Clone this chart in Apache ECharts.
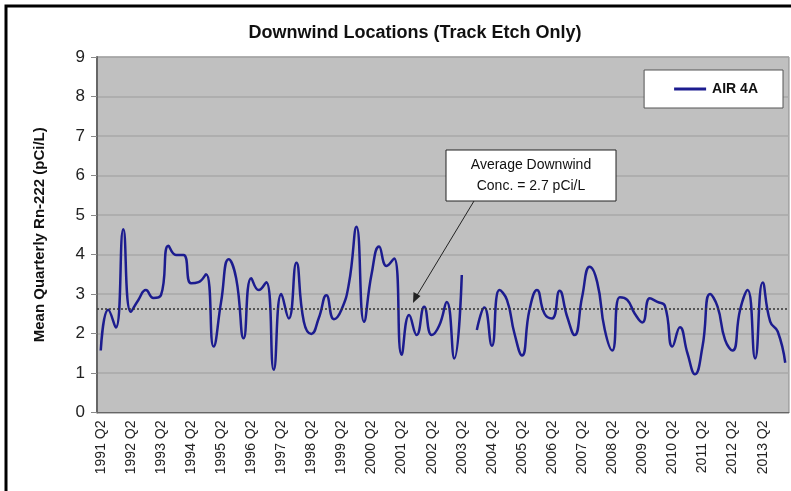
<!DOCTYPE html>
<html>
<head>
<meta charset="utf-8">
<script src="https://cdn.jsdelivr.net/npm/echarts@6/dist/echarts.min.js"></script>
<style>
  html, body { margin: 0; padding: 0; background: #fff; }
  #main { width: 791px; height: 491px; }
</style>
</head>
<body>
<div id="main"></div>
<script>
// quarters 1991 Q2 .. 2014 Q1
var startYear = 1991;
var quarters = [];
for (var k = 0; k < 92; k++) {
    var q = (k + 1) % 4 + 1;
    var y = startYear + Math.floor((k + 1) / 4);
    quarters.push(y + ' Q' + q);
}

var air4a = [
    1.57, 2.6, 2.15, 4.64, 2.55, 2.85, 3.1, 2.9, 2.97, 4.22,
    3.99, 3.99, 3.27, 3.3, 3.5, 1.67, 2.8, 3.88, 3.4, 1.88,
    3.4, 3.1, 3.3, 1.08, 3.0, 2.38, 3.79, 2.3, 1.99, 2.4,
    2.97, 2.36, 2.6, 3.27, 4.7, 2.3, 3.5, 4.2, 3.71, 3.9,
    1.46, 2.47, 1.96, 2.68, 1.96, 2.2, 2.8, 1.37, 3.48, null,
    2.09, 2.66, 1.69, 3.1, 2.85, 2.0, 1.44, 2.6, 3.1, 2.5,
    2.38, 3.08, 2.43, 1.96, 2.93, 3.69, 3.3, 2.1, 1.57, 2.92,
    2.85, 2.5, 2.28, 2.89, 2.8, 2.7, 1.67, 2.16, 1.5, 0.97,
    1.67, 3.0, 2.68, 1.84, 1.57, 2.6, 3.1, 1.37, 3.29, 2.3,
    2.05, 1.26
];

var averageLine = 2.63;
var yTicks = [0, 1, 2, 3, 4, 5, 6, 7, 8, 9];

var chartDom = document.getElementById('main');
var myChart = echarts.init(chartDom);
var option;

var fontFam = '"Liberation Sans", Arial, sans-serif';

option = {
    animation: false,
    backgroundColor: '#ffffff',
    title: {
        text: 'Downwind Locations (Track Etch Only)',
        left: 410,
        textAlign: 'center',
        top: 19,
        textStyle: { fontFamily: fontFam, fontSize: 18, fontWeight: 'bold', color: '#111' }
    },
    legend: {
        right: 8,
        top: 70,
        icon: 'rect',
        itemWidth: 32,
        itemHeight: 3,
        itemGap: 0,
        padding: [12, 25, 12, 30],
        backgroundColor: '#ffffff',
        borderColor: '#555',
        borderWidth: 1,
        textStyle: { fontFamily: fontFam, fontSize: 14, fontWeight: 'bold', color: '#111', padding: [0, 0, 0, 1] },
        data: ['AIR 4A']
    },
    grid: {
        left: 97,
        right: 2,
        top: 57,
        bottom: 78.5,
        show: true,
        backgroundColor: '#c0c0c0',
        borderColor: '#8a8a8a',
        borderWidth: 1
    },
    xAxis: {
        type: 'category',
        data: quarters,
        boundaryGap: true,
        axisLine: { lineStyle: { color: '#666', width: 1 } },
        axisTick: { interval: 0, length: 4, lineStyle: { color: '#777' } },
        axisLabel: {
            interval: 3,
            rotate: 90,
            margin: 8,
            fontFamily: fontFam,
            fontSize: 14,
            color: '#222'
        },
        splitLine: { show: false }
    },
    yAxis: {
        type: 'value',
        min: 0,
        max: 9,
        interval: 1,
        name: 'Mean Quarterly Rn-222 (pCi/L)',
        nameLocation: 'middle',
        nameGap: 50,
        nameTextStyle: { fontFamily: fontFam, fontSize: 15, fontWeight: 'bold', color: '#111' },
        axisLine: { show: true, lineStyle: { color: '#666', width: 2 } },
        axisTick: { show: true, length: 6, lineStyle: { color: '#888' } },
        axisLabel: {
            fontFamily: fontFam,
            fontSize: 17,
            color: '#222',
            margin: 12,
            formatter: function (v) { return yTicks.indexOf(v) >= 0 ? String(v) : ''; }
        },
        splitLine: { lineStyle: { color: '#a9a9a9', width: 1.5 } }
    },
    series: [{
        name: 'AIR 4A',
        type: 'line',
        data: air4a,
        smooth: true,
        connectNulls: false,
        showSymbol: false,
        symbol: 'none',
        lineStyle: { color: '#1c1c8f', width: 2.5 },
        itemStyle: { color: '#1c1c8f' },
        markLine: {
            silent: true,
            symbol: ['none', 'none'],
            label: { show: false },
            lineStyle: { color: '#333', type: [2, 2], width: 1.5 },
            data: [{ yAxis: averageLine }]
        }
    }],
    graphic: [
        {
            type: 'rect',
            shape: { x: 6, y: 6, width: 820, height: 520 },
            style: { fill: 'none', stroke: '#000', lineWidth: 3 },
            silent: true
        },
        {
            type: 'line',
            shape: { x1: 474, y1: 201, x2: 416, y2: 297 },
            style: { stroke: '#222', lineWidth: 1 },
            z: 100
        },
        {
            type: 'polygon',
            shape: { points: [[413, 303], [413.5, 292], [420.5, 296]] },
            style: { fill: '#222' },
            z: 100
        },
        {
            type: 'rect',
            shape: { x: 446, y: 150, width: 170, height: 51 },
            style: { fill: '#fff', stroke: '#222', lineWidth: 1 },
            z: 100
        },
        {
            type: 'text',
            x: 531,
            y: 176,
            style: {
                text: 'Average Downwind\nConc. = 2.7 pCi/L',
                align: 'center',
                verticalAlign: 'middle',
                fontFamily: fontFam,
                fontSize: 14,
                lineHeight: 21,
                fill: '#111'
            },
            z: 101
        }
    ]
};
option && myChart.setOption(option);
</script>
</body>
</html>
